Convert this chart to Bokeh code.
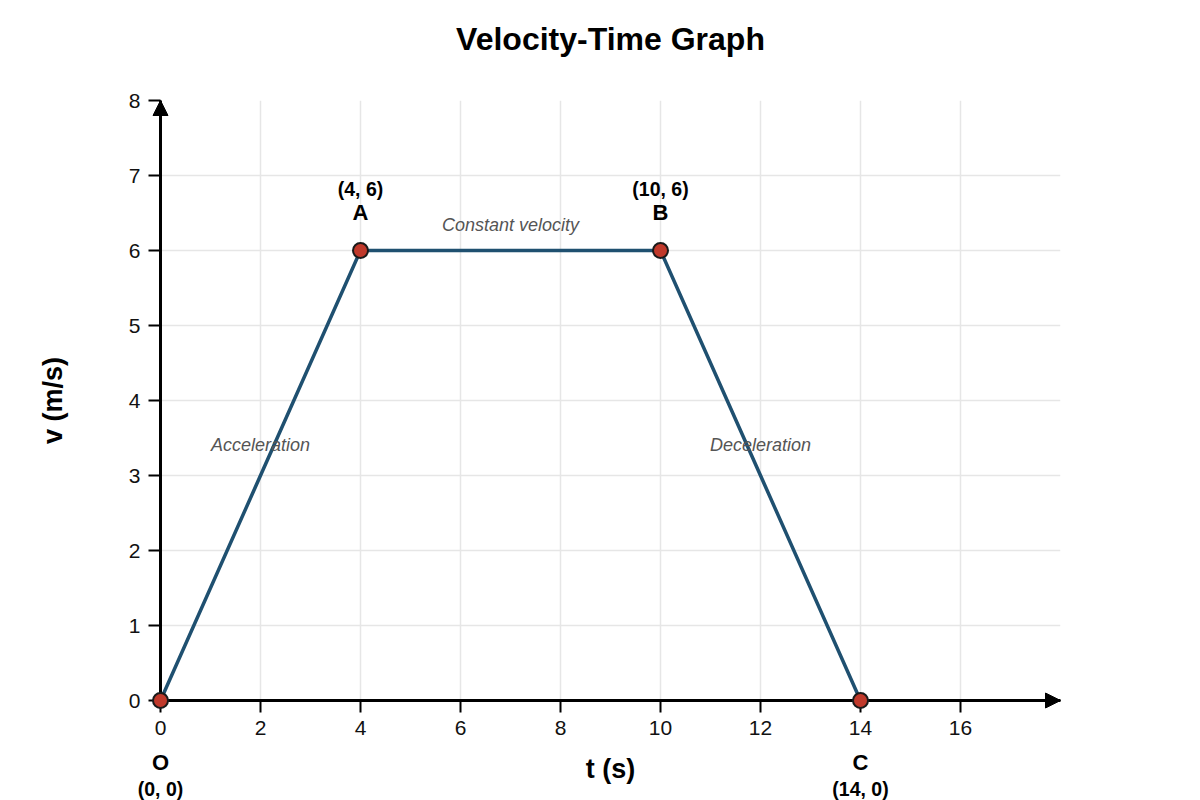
from bokeh.plotting import figure
from bokeh.models import Range1d, FixedTicker, ColumnDataSource
from bokeh.embed import file_html
from bokeh.resources import INLINE
from bokeh.core.properties import value

# ---- data ----
t_points = [0, 4, 10, 14]
v_points = [0, 6, 6, 0]
point_names = ["O", "A", "B", "C"]
point_coords = ["(0, 0)", "(4, 6)", "(10, 6)", "(14, 0)"]
phase_names = ["Acceleration", "Constant velocity", "Deceleration"]
x_tick_values = [0, 2, 4, 6, 8, 10, 12, 14, 16]
y_tick_values = [0, 1, 2, 3, 4, 5, 6, 7, 8]
t_max = 18
v_max = 8
title_text = "Velocity-Time Graph"

FONT = "Liberation Sans"
LINE_COLOR = "#1f5070"
POINT_COLOR = "#c0392b"

W, H = 1200, 800
LEFT, RIGHT, TOP, BOTTOM = 160, 140, 100, 100
PX_T = (W - LEFT - RIGHT) / t_max   # pixels per second
PX_V = (H - TOP - BOTTOM) / v_max   # pixels per m/s

p = figure(width=W, height=H,
           x_range=Range1d(0, t_max), y_range=Range1d(0, v_max),
           output_backend="svg", toolbar_location=None,
           min_border_left=LEFT, min_border_right=RIGHT,
           min_border_top=TOP, min_border_bottom=BOTTOM,
           background_fill_color="white", border_fill_color="white")
p.outline_line_color = None

# grid
p.xgrid.ticker = FixedTicker(ticks=list(range(0, t_max + 1, 2)))
p.ygrid.ticker = FixedTicker(ticks=list(range(0, v_max + 1, 1)))
for g in (p.xgrid, p.ygrid):
    g.grid_line_color = "#e6e6e6"
    g.grid_line_width = 1.5

# axes
p.xaxis.ticker = FixedTicker(ticks=x_tick_values)
p.yaxis.ticker = FixedTicker(ticks=y_tick_values)
p.xaxis.axis_label = "t (s)"
p.yaxis.axis_label = "v (m/s)"
for ax in (p.xaxis, p.yaxis):
    ax.axis_line_color = "black"
    ax.axis_line_width = 3
    ax.major_tick_line_color = "black"
    ax.major_tick_line_width = 2
    ax.major_tick_out = 12
    ax.major_tick_in = 0
    ax.minor_tick_line_color = None
    ax.major_label_text_font = FONT
    ax.major_label_text_font_size = "21px"
    ax.major_label_text_color = "#111111"
    ax.major_label_standoff = 8
    ax.axis_label_text_font = FONT
    ax.axis_label_text_font_size = "27px"
    ax.axis_label_text_font_style = "bold"
    ax.axis_label_text_color = "black"
p.xaxis.axis_label_standoff = 16
p.yaxis.axis_label_standoff = 58

# arrow heads at the axis ends (drawn unclipped at overlay level)
HEAD_L, HEAD_W = 15, 15
p.patches(xs=[[t_max - HEAD_L / PX_T, t_max, t_max - HEAD_L / PX_T],
              [-HEAD_W / 2 / PX_T, 0, HEAD_W / 2 / PX_T]],
          ys=[[-HEAD_W / 2 / PX_V, 0, HEAD_W / 2 / PX_V],
              [v_max - HEAD_L / PX_V, v_max, v_max - HEAD_L / PX_V]],
          fill_color="black", line_color="black", line_width=1, level="overlay")

# data line and points
src = ColumnDataSource(dict(
    t=t_points, v=v_points, name=point_names, coord=point_coords,
    name_off=[-38 if vv > 0 else 62 for vv in v_points],
    coord_off=[-62 if vv > 0 else 88 for vv in v_points],
))
p.line("t", "v", source=src, line_color=LINE_COLOR, line_width=3.5, level="overlay")
p.scatter("t", "v", source=src, size=15, fill_color=POINT_COLOR,
          line_color="#1a1a1a", line_width=2, level="overlay")

p.text("t", "v", text="name", source=src, y_offset="name_off",
       text_align="center", text_baseline="middle",
       text_font=value(FONT), text_font_size="22px",
       text_font_style="bold", text_color="black", level="overlay")
p.text("t", "v", text="coord", source=src, y_offset="coord_off",
       text_align="center", text_baseline="middle",
       text_font=value(FONT), text_font_size="19.5px",
       text_font_style="bold", text_color="black", level="overlay")

# phase labels at segment midpoints
mid_t = [(t_points[i] + t_points[i + 1]) / 2 for i in range(len(t_points) - 1)]
mid_v = [(v_points[i] + v_points[i + 1]) / 2 for i in range(len(v_points) - 1)]
flat = [v_points[i] == v_points[i + 1] for i in range(len(v_points) - 1)]
phase_src = ColumnDataSource(dict(t=mid_t, v=mid_v, label=phase_names,
                                  off=[-26 if f else -31 for f in flat]))
p.text("t", "v", text="label", source=phase_src, y_offset="off",
       text_align="center", text_baseline="middle",
       text_font=value(FONT), text_font_size="18px",
       text_font_style="italic", text_color="#555555", level="overlay")

# chart title, centred over the plot area
title_src = ColumnDataSource(dict(t=[t_max / 2], v=[v_max], label=[title_text]))
p.text("t", "v", text="label", source=title_src, y_offset=-62,
       text_align="center", text_baseline="middle",
       text_font=value(FONT), text_font_size="32px",
       text_font_style="bold", text_color="black", level="overlay")

open("out.html", "w").write(file_html(p, INLINE))
